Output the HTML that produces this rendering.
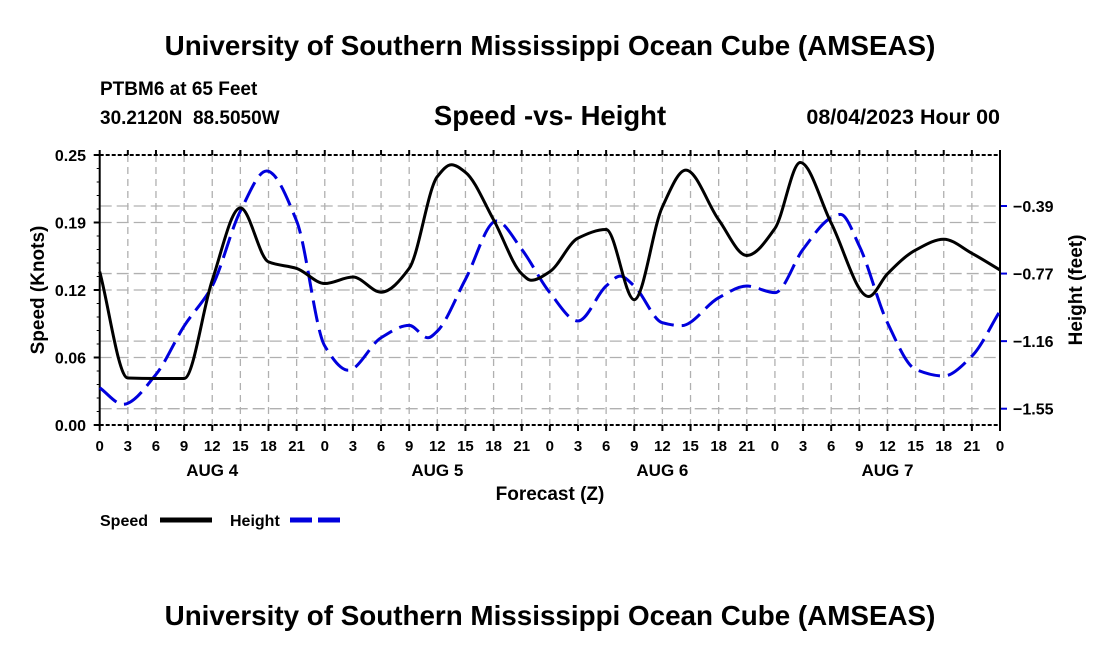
<!DOCTYPE html>
<html><head><meta charset="utf-8"><style>
html,body{margin:0;padding:0;background:#fff;}
svg{display:block;font-family:"Liberation Sans",sans-serif;font-weight:bold;}
</style></head><body>
<svg id="chart" width="1100" height="650" viewBox="0 0 1100 650">
<text x="550" y="55" text-anchor="middle" font-size="27.8">University of Southern Mississippi Ocean Cube (AMSEAS)</text>
<text x="100" y="95" font-size="19">PTBM6 at 65 Feet</text>
<text x="100" y="124" font-size="19" xml:space="preserve">30.2120N&#160;&#160;88.5050W</text>
<text x="550" y="125" text-anchor="middle" font-size="27.5">Speed -vs- Height</text>
<text x="1000" y="124" text-anchor="end" font-size="21.5">08/04/2023 Hour 00</text>
<g id="grid"></g>
<g id="axes"></g>
<g id="series"></g>
<text x="550" y="500" text-anchor="middle" font-size="19">Forecast (Z)</text>
<text transform="translate(44,290) rotate(-90)" text-anchor="middle" font-size="19">Speed (Knots)</text>
<text transform="translate(1082,290) rotate(-90)" text-anchor="middle" font-size="19">Height (feet)</text>
<g>
<text x="100" y="526" font-size="16">Speed</text>
<line x1="160" y1="520" x2="212" y2="520" stroke="#000" stroke-width="5"/>
<text x="230" y="526" font-size="16">Height</text>
<line x1="290" y1="520" x2="342" y2="520" stroke="#0000dd" stroke-width="5" stroke-dasharray="22,6"/>
</g>
<text x="550" y="625" text-anchor="middle" font-size="27.8">University of Southern Mississippi Ocean Cube (AMSEAS)</text>
</svg>
<script>
const speedHours=[0,3,6,9,12,15,18,21,24,27,30,33,36,37.5,39,42,45,46,48,51,54,57,60,62.5,66,69,72,74.7,78,82,84,87,90,93,96];
const speedValues=[0.142,0.0435,0.043,0.043,0.134,0.201,0.151,0.145,0.131,0.137,0.123,0.145,0.230,0.241,0.234,0.190,0.140,0.134,0.142,0.173,0.181,0.116,0.202,0.236,0.190,0.157,0.182,0.243,0.187,0.119,0.140,0.162,0.172,0.159,0.1435];
const heightHours=[0,2.5,6,9,12,15,17.8,21,24,26.5,30,33,35,36,39,42.3,45,48,51,54,55.5,57,60,62,66,69,72,75,78,79,81,84,87,90,93,96];
const heightValues=[-1.43,-1.525,-1.354,-1.077,-0.848,-0.419,-0.19,-0.476,-1.191,-1.33,-1.144,-1.073,-1.144,-1.106,-0.81,-0.476,-0.638,-0.886,-1.048,-0.848,-0.791,-0.848,-1.058,-1.075,-0.915,-0.848,-0.886,-0.638,-0.457,-0.438,-0.619,-1.058,-1.325,-1.363,-1.249,-0.991];
const speedTicks=[0,0.0625,0.125,0.1875,0.25];
const speedTickLabels=["0.00","0.06","0.12","0.19","0.25"];
const heightTicks=[-0.39,-0.7767,-1.1634,-1.55];
const heightTickLabels=["\u22120.39","\u22120.77","\u22121.16","\u22121.55"];
const hourTickLabels=["0","3","6","9","12","15","18","21","0","3","6","9","12","15","18","21","0","3","6","9","12","15","18","21","0","3","6","9","12","15","18","21","0"];
const dayLabels=["AUG 4","AUG 5","AUG 6","AUG 7"];

const NS="http://www.w3.org/2000/svg";
const L=99.7,R=1000,T=155,B=425;
const xS=h=>L+h*(R-L)/96;
const yS=v=>B-v*(B-T)/0.25;
const yH=f=>206+(-0.39-f)*(408.7-206)/1.16;
function mk(p,tag,attrs){const e=document.createElementNS(NS,tag);for(const k in attrs)e.setAttribute(k,attrs[k]);p.appendChild(e);return e;}
const grid=document.getElementById('grid'),axes=document.getElementById('axes'),series=document.getElementById('series');
hourTickLabels.forEach((lab,i)=>{const x=xS(i*3);
 if(i>0&&i<32){const g=mk(grid,'line',{x1:x,y1:T,x2:x,y2:B,stroke:'#b0b0b0','stroke-width':1.3,'stroke-dasharray':'7,5'});
 
 }
 const t=mk(axes,'line',{x1:x,y1:B,x2:x,y2:B+6,stroke:'#000','stroke-width':2});
 
 
 const t2=mk(axes,'line',{x1:x,y1:T,x2:x,y2:T-5,stroke:'#000','stroke-width':2});
 
 
 const tx=mk(axes,'text',{x:x,y:451,'text-anchor':'middle','font-size':15});tx.textContent=lab;
 
 
});
dayLabels.forEach((d,i)=>{const tx=mk(axes,'text',{x:xS(i*24+12),y:476,'text-anchor':'middle','font-size':17});tx.textContent=d;
 
 });
speedTicks.forEach((v,i)=>{const y=yS(v);
 if(i>0&&i<speedTicks.length-1){const g=mk(grid,'line',{x1:L,y1:y,x2:R,y2:y,stroke:'#b0b0b0','stroke-width':1.3,'stroke-dasharray':'12,5'});
 
 }
 const t=mk(axes,'line',{x1:L-6,y1:y,x2:L,y2:y,stroke:'#000','stroke-width':2});
 
 
 const tx=mk(axes,'text',{x:86,y:y+6,'text-anchor':'end','font-size':16});tx.textContent=speedTickLabels[i];
 
 
});
for(let v=0;v<=0.25001;v+=0.0125){const t=mk(axes,'line',{x1:L-3,y1:yS(v),x2:L,y2:yS(v),stroke:'#000','stroke-width':1});
 
 }
heightTicks.forEach((f,i)=>{const y=yH(f);
 const g=mk(grid,'line',{x1:L,y1:y,x2:R,y2:y,stroke:'#b0b0b0','stroke-width':1.3,'stroke-dasharray':'12,5'});
 
 
 const t=mk(axes,'line',{x1:R,y1:y,x2:R+7,y2:y,stroke:'#0000dd','stroke-width':2});
 
 
 const tx=mk(axes,'text',{x:1013,y:y+6,'font-size':16});tx.textContent=heightTickLabels[i];
 
 
});
[['axis-left',L,T,L,B,''],['axis-right',R,T,R,B,''],['axis-top',L,T,R,T,'4,2'],['axis-bottom',L,B,R,B,'4,2']].forEach(a=>{
 const e=mk(axes,'line',{x1:a[1],y1:a[2],x2:a[3],y2:a[4],stroke:'#000','stroke-width':2,'stroke-dasharray':a[5]||'none'});
 
 });
function smooth(pts){const n=pts.length,dx=[],s=[],m=[];
 for(let i=0;i<n-1;i++){dx[i]=pts[i+1][0]-pts[i][0];s[i]=(pts[i+1][1]-pts[i][1])/dx[i];}
 m[0]=s[0];m[n-1]=s[n-2];
 for(let i=1;i<n-1;i++){if(s[i-1]*s[i]<=0)m[i]=0;else{const w1=2*dx[i]+dx[i-1],w2=dx[i]+2*dx[i-1];m[i]=(w1+w2)/(w1/s[i-1]+w2/s[i]);}}
 let d='M'+pts[0][0]+','+pts[0][1];
 for(let i=0;i<n-1;i++){const h=dx[i]/3;
 d+=' C'+(pts[i][0]+h)+','+(pts[i][1]+m[i]*h)+' '+(pts[i+1][0]-h)+','+(pts[i+1][1]-m[i+1]*h)+' '+pts[i+1][0]+','+pts[i+1][1];}
 return d;}
const hp=mk(series,'path',{d:smooth(heightHours.map((h,i)=>[xS(h),yH(heightValues[i])])),fill:'none',stroke:'#0000dd','stroke-width':3,'stroke-dasharray':'22,8'});


const sp=mk(series,'path',{d:smooth(speedHours.map((h,i)=>[xS(h),yS(speedValues[i])])),fill:'none',stroke:'#000','stroke-width':3});


</script>
</body></html>
